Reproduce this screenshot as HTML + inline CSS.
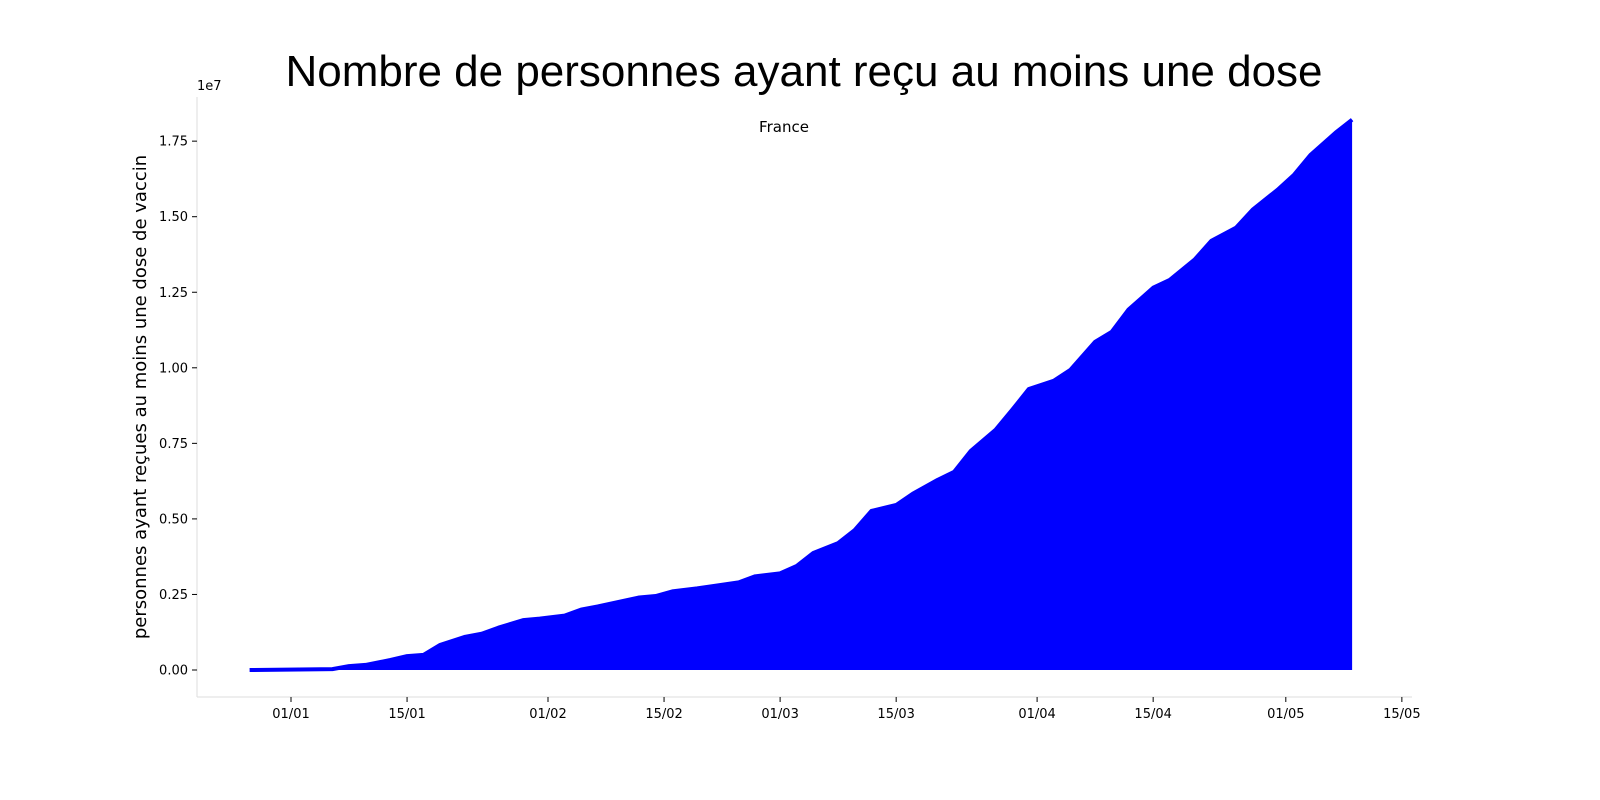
<!DOCTYPE html>
<html><head><meta charset="utf-8">
<style>
html,body{margin:0;padding:0;background:#fff;}
svg{display:block;font-family:"DejaVu Sans","Liberation Sans",sans-serif;}
</style></head>
<body>
<svg id="chart" width="1600" height="800" viewBox="0 0 1600 800" xmlns="http://www.w3.org/2000/svg">
<rect width="1600" height="800" fill="#fff"/>
<text x="804" y="86" text-anchor="middle" font-size="44" fill="#000" font-family="Liberation Sans, sans-serif">Nombre de personnes ayant reçu au moins une dose</text>
<text x="784" y="132" text-anchor="middle" font-size="15" fill="#000">France</text>
<text x="197" y="90" font-size="13" fill="#000">1e7</text>
<text transform="translate(146,397) rotate(-90)" text-anchor="middle" font-size="18" fill="#000">personnes ayant reçues au moins une dose de vaccin</text>
<g id="axes"></g>
<g id="series"></g>
</svg>
<script>
const dates = ["2020-12-27","2021-01-06","2021-01-08","2021-01-10","2021-01-13","2021-01-15","2021-01-17","2021-01-19","2021-01-22","2021-01-24","2021-01-26","2021-01-29","2021-01-31","2021-02-03","2021-02-05","2021-02-07","2021-02-12","2021-02-14","2021-02-16","2021-02-19","2021-02-21","2021-02-24","2021-02-26","2021-03-01","2021-03-03","2021-03-05","2021-03-08","2021-03-10","2021-03-12","2021-03-15","2021-03-17","2021-03-20","2021-03-22","2021-03-24","2021-03-27","2021-03-29","2021-03-31","2021-04-03","2021-04-05","2021-04-08","2021-04-10","2021-04-12","2021-04-15","2021-04-17","2021-04-20","2021-04-22","2021-04-25","2021-04-27","2021-04-30","2021-05-02","2021-05-04","2021-05-07","2021-05-09"];
const values = [0,0.003,0.013,0.017,0.033,0.046,0.05,0.083,0.11,0.12,0.14,0.165,0.17,0.18,0.2,0.21,0.24,0.245,0.26,0.27,0.278,0.29,0.31,0.32,0.344,0.387,0.42,0.463,0.526,0.546,0.583,0.629,0.656,0.725,0.795,0.861,0.93,0.957,0.993,1.086,1.119,1.192,1.265,1.291,1.358,1.42,1.464,1.523,1.589,1.639,1.705,1.778,1.821];
const yTicks = [0,0.25,0.5,0.75,1.0,1.25,1.5,1.75];
const xTickDates = ["2021-01-01","2021-01-15","2021-02-01","2021-02-15","2021-03-01","2021-03-15","2021-04-01","2021-04-15","2021-05-01","2021-05-15"];
const xTickLabels = ["01/01","15/01","01/02","15/02","01/03","15/03","01/04","15/04","01/05","15/05"];

const NS="http://www.w3.org/2000/svg";
const DAY=86400000, T0=Date.UTC(2021,0,1);
function dayOf(s){const p=s.split("-");return (Date.UTC(+p[0],+p[1]-1,+p[2])-T0)/DAY;}
function xScale(s){return 291+dayOf(s)*8.29;}
function yScale(v){return 670-v*302.2;}
function mk(t,a,parent){const e=document.createElementNS(NS,t);for(const k in a)e.setAttribute(k,a[k]);parent.appendChild(e);return e;}
const axes=document.getElementById("axes"), series=document.getElementById("series");

let sp=mk("line",{x1:197,y1:97,x2:197,y2:697,stroke:"#ddd","stroke-width":1},axes);


sp=mk("line",{x1:197,y1:697,x2:1412,y2:697,stroke:"#ddd","stroke-width":1},axes);



yTicks.forEach(v=>{
  const y=yScale(v);
  const tk=mk("line",{x1:192,y1:y,x2:197,y2:y,stroke:"#000","stroke-width":1},axes);
  
  
  const t=mk("text",{x:188,y:y+4.5,"text-anchor":"end","font-size":13,fill:"#000"},axes);
  t.textContent=v.toFixed(2);
  
  
});
xTickDates.forEach((d,i)=>{
  const x=xScale(d);
  const tk=mk("line",{x1:x,y1:697,x2:x,y2:702,stroke:"#000","stroke-width":1},axes);
  
  
  const t=mk("text",{x:x,y:718,"text-anchor":"middle","font-size":13,fill:"#000"},axes);
  t.textContent=xTickLabels[i];
  
  
});

let pts=dates.map((d,i)=>xScale(d).toFixed(1)+","+yScale(values[i]).toFixed(1));
const x0=xScale(dates[0]), x1=xScale(dates[dates.length-1]);
const area=mk("path",{d:"M"+x0+","+yScale(0)+" L"+pts.join(" L")+" L"+x1+","+yScale(0)+" Z",fill:"#0000ff"},series);


const line=mk("polyline",{points:pts.join(" "),fill:"none",stroke:"#0000ff","stroke-width":4,"stroke-linejoin":"round"},series);


</script>
</body></html>
